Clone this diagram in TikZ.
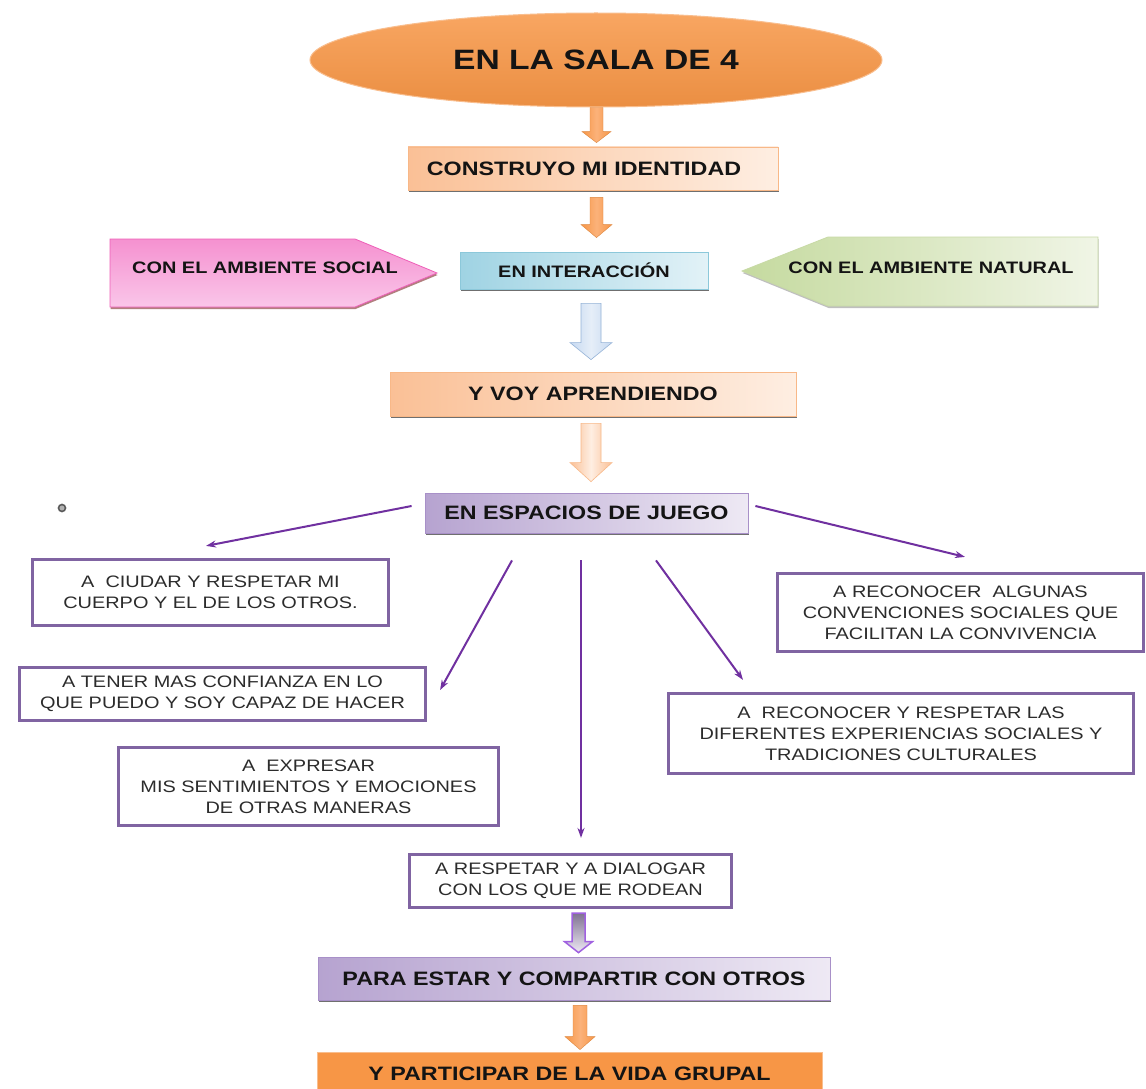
\documentclass[tikz,border=0pt]{standalone}
\usepackage{fontspec}
\setmainfont[FakeStretch=1.2]{Liberation Sans}
\usetikzlibrary{shapes.geometric,shadows,calc,arrows.meta}
\definecolor{orgA}{HTML}{F79646}
\definecolor{orgL}{HTML}{FBB27A}
\definecolor{orgB}{HTML}{F9BE8E}
\definecolor{peachL}{HTML}{FAC096}
\definecolor{peachR}{HTML}{FEEEE2}
\definecolor{peachB}{HTML}{F8B888}
\definecolor{blueL}{HTML}{9FD3E3}
\definecolor{blueR}{HTML}{E2F2F7}
\definecolor{blueB}{HTML}{8CC8DA}
\definecolor{pinkL}{HTML}{F591D0}
\definecolor{pinkR}{HTML}{FAC6E9}
\definecolor{pinkB}{HTML}{EE5FB8}
\definecolor{greenL}{HTML}{C5DA9F}
\definecolor{greenR}{HTML}{F0F5E6}
\definecolor{greenB}{HTML}{C8DAA6}
\definecolor{lavL}{HTML}{B6A3D0}
\definecolor{lavR}{HTML}{EEE9F4}
\definecolor{lavB}{HTML}{A890C8}
\definecolor{pborder}{HTML}{8064A2}
\definecolor{pline}{HTML}{7030A0}
\definecolor{arrBlue}{HTML}{C6D9F1}
\definecolor{arrBlueL}{HTML}{E6EEF8}
\definecolor{arrBlueB}{HTML}{95B3D7}
\definecolor{arrPur}{HTML}{A061E0}
\definecolor{txt}{HTML}{141414}
\newcommand\blockarrow[6]{%
  \path[#6] let \p1=#1, \p2=#2 in
   (\x1-#3,\y1) -- (\x1+#3,\y1) -- (\x1+#3,\y2+#5) -- (\x1+#4,\y2+#5) -- (\x1,\y2)
   -- (\x1-#4,\y2+#5) -- (\x1-#3,\y2+#5) -- cycle;}
\begin{document}
\begin{tikzpicture}[x=1pt,y=-1pt,
  shad/.style={drop shadow={shadow xshift=0.6pt,shadow yshift=-2pt,opacity=0.7,fill=black!80}},
  mainbox/.style={rectangle,inner sep=0pt,align=center,text=txt,
    font=\fontsize{19.4}{23}\selectfont\bfseries,line width=0.8pt,shad},
  peachbox/.style={mainbox,left color=peachL,right color=peachR,draw=peachB},
  lavbox/.style={mainbox,left color=lavL,right color=lavR,draw=lavB},
  bluebox/.style={mainbox,left color=blueL,right color=blueR,draw=blueB,
    font=\fontsize{16.6}{20}\selectfont\bfseries},
  orangebox/.style={mainbox,fill=orgA,draw=orgB},
  pbox/.style={rectangle,draw=pborder,line width=3.2pt,fill=white,align=center,
    inner sep=0pt,text=txt!90,font=\fontsize{16.6}{21}\selectfont},
  sidetxt/.style={inner sep=0pt,text=txt,font=\fontsize{16.6}{20}\selectfont\bfseries},
  plink/.style={draw=pline,line width=2pt,-{Stealth[length=10pt,width=7pt]}},
  arrOrange/.style={left color=orgA,right color=orgA,middle color=orgL,draw=orgA!90!black,line width=0.4pt},
  arrBlueS/.style={left color=arrBlue,right color=arrBlue,middle color=arrBlueL,draw=arrBlueB,line width=0.6pt},
  arrPeach/.style={left color=peachL,right color=peachL,middle color=peachR,draw=peachB,line width=0.6pt},
  arrPurple/.style={top color=lavL!70!black,bottom color=lavR,draw=arrPur,line width=1.5pt}
]
\clip (0,0) rectangle (1146,1089);
\fill[white] (0,0) rectangle (1146,1089);

% title
\node[ellipse,minimum width=572pt,minimum height=94pt,inner sep=0pt,
  top color=orgA!85!white,bottom color=orgA!95!black,draw=orgB,line width=1pt,
  text=txt,font=\fontsize{28}{32}\selectfont\bfseries] (title) at (596,60) {EN LA SALA DE 4};

\node[peachbox,minimum width=370pt,minimum height=43pt] (ident) at (593,168.5)
  {CONSTRUYO MI IDENTIDAD\hspace*{18pt}};

% side pentagons
\path[top color=pinkL,bottom color=pinkR,draw=pinkB,line width=0.8pt,
  drop shadow={shadow xshift=0.6pt,shadow yshift=-2pt,opacity=0.5,fill=black!60!red}]
  (110,239) -- (355,239) -- (437,273) -- (355,307) -- (110,307) -- cycle;
\node[sidetxt] (social) at (265,268) {CON EL AMBIENTE SOCIAL};
\path[left color=greenL,right color=greenR,draw=greenB,line width=0.8pt,
  drop shadow={shadow xshift=0.6pt,shadow yshift=-2pt,opacity=0.25,fill=black}]
  (1098,237) -- (828,237) -- (742,271) -- (828,306) -- (1098,306) -- cycle;
\node[sidetxt] (natural) at (931,268) {CON EL AMBIENTE NATURAL};

\node[bluebox,minimum width=248pt,minimum height=37pt] (inter) at (584,270.5) {EN INTERACCIÓN};
\node[peachbox,minimum width=406pt,minimum height=44pt] (voy) at (593,394) {Y VOY APRENDIENDO};
\node[lavbox,minimum width=323pt,minimum height=40pt] (esp) at (586.5,513) {EN ESPACIOS DE JUEGO};

\node[circle,draw=black!65,line width=1.6pt,fill=black!30,minimum size=7pt,inner sep=0pt] (dot) at (62,508) {};

% purple boxes
\node[pbox,minimum width=356pt,minimum height=66pt] (b1) at (210.5,592.5)
  {A\ \ CIUDAR Y RESPETAR MI\\CUERPO Y EL DE LOS OTROS.};
\node[pbox,minimum width=406pt,minimum height=53pt] (b2) at (222.5,694)
  {A TENER MAS CONFIANZA EN LO\\QUE PUEDO Y SOY CAPAZ DE HACER};
\node[pbox,minimum width=380pt,minimum height=78pt] (b3) at (308.5,786.5)
  {A\ \ EXPRESAR\\MIS SENTIMIENTOS Y EMOCIONES\\DE OTRAS MANERAS};
\node[pbox,minimum width=366pt,minimum height=78pt] (b4) at (960.5,612.5)
  {A RECONOCER\ \ ALGUNAS\\CONVENCIONES SOCIALES QUE\\FACILITAN LA CONVIVENCIA};
\node[pbox,minimum width=465pt,minimum height=80pt] (b5) at (901,733.5)
  {A\ \ RECONOCER Y RESPETAR LAS\\DIFERENTES EXPERIENCIAS SOCIALES Y\\TRADICIONES CULTURALES};
\node[pbox,minimum width=322pt,minimum height=53pt] (b6) at (570.5,881)
  {A RESPETAR Y A DIALOGAR\\CON LOS QUE ME RODEAN};

\node[lavbox,minimum width=512pt,minimum height=43pt] (para) at (574,978.5)
  {PARA ESTAR Y COMPARTIR CON OTROS};
\node[orangebox,minimum width=505pt,minimum height=43pt] (fin) at (569.5,1073.5)
  {Y PARTICIPAR DE LA VIDA GRUPAL};

% thin purple connectors
\coordinate (l1a) at ($(esp.west)+(-13,-7)$);
\coordinate (l1b) at ($(b1.north)+(-4.5,-12)$);
\coordinate (l2a) at ($(esp.east)+(7,-7)$);
\coordinate (l2b) at ($(b4.north)+(4.5,-15)$);
\coordinate (l3a) at ($(esp.south)+(-74.5,27)$);
\coordinate (l3b) at ($(b2.east)+(13,-4)$);
\coordinate (l4a) at ($(esp.south)+(-5.5,27)$);
\coordinate (l4b) at ($(b6.north)+(10.5,-15)$);
\coordinate (l5a) at ($(esp.south)+(69.5,27)$);
\coordinate (l5b) at ($(b5.north)+(-158,-12)$);
\draw[plink] (l1a) -- (l1b);
\draw[plink] (l2a) -- (l2b);
\draw[plink] (l3a) -- (l3b);
\draw[plink] (l4a) -- (l4b);
\draw[plink] (l5a) -- (l5b);

% block arrows
\blockarrow{($(title.south)+(0.5,0)$)}{($(ident.north)+(0,-4)$)}{6.5pt}{14.5pt}{11pt}{arrOrange}
\blockarrow{($(ident.south)+(3.5,7)$)}{($(inter.north)+(0,-14)$)}{6.5pt}{15.5pt}{13pt}{arrOrange}
\blockarrow{($(inter.south)+(7,14)$)}{($(voy.north)+(0,-12)$)}{10pt}{21pt}{17pt}{arrBlueS}
\blockarrow{($(voy.south)+(-2,7)$)}{($(esp.north)+(0,-11)$)}{10pt}{21pt}{19pt}{arrPeach}
\blockarrow{($(b6.south)+(8,4)$)}{($(para.north)+(0,-4)$)}{6.5pt}{14pt}{11pt}{arrPurple}
\blockarrow{($(para.south)+(6,5)$)}{($(fin.north)+(0,-2)$)}{7pt}{15pt}{13pt}{arrOrange}
\end{tikzpicture}
\end{document}
